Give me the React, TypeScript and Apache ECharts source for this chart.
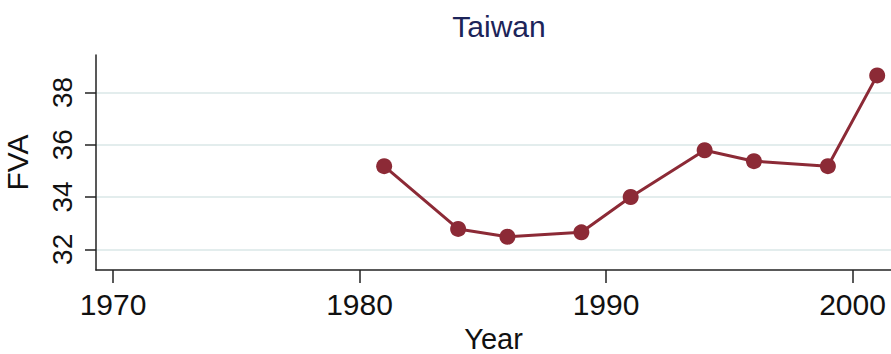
import React, { useEffect, useRef } from "react";
import * as echarts from "echarts";

// Taiwan FVA by year
const years = [1981, 1984, 1986, 1989, 1991, 1994, 1996, 1999, 2001];
const fva = [35.18, 32.78, 32.48, 32.65, 34.0, 35.79, 35.37, 35.18, 38.65];

const xTicks = [1970, 1980, 1990, 2000];
const yTicks = [32, 34, 36, 38];

const SANS = "'Liberation Sans', Arial, sans-serif";

export default function App() {
  const ref = useRef<HTMLDivElement>(null);

  useEffect(() => {
    if (!ref.current) return;
    const chart = echarts.init(ref.current, null, { renderer: "svg" });
    chart.setOption({
      animation: false,
      backgroundColor: "#ffffff",
      title: {
        text: "Taiwan",
        left: 494,
        top: 6,
        textAlign: "center",
        textStyle: {
          fontFamily: SANS,
          fontSize: 30,
          fontWeight: "normal",
          color: "#1c2459",
        },
      },
      grid: { left: 96, right: 0, top: 55, bottom: 84, outerBoundsMode: "none" },
      xAxis: {
        type: "value",
        min: 1969.31,
        max: 2001.56,
        name: "Year",
        nameLocation: "middle",
        nameGap: 54,
        nameTextStyle: { fontFamily: SANS, fontSize: 29, color: "#111" },
        axisLine: { show: true, lineStyle: { color: "#222", width: 1.5 } },
        axisTick: {
          show: true,
          length: 13,
          customValues: xTicks,
          lineStyle: { color: "#222", width: 1.5 },
        },
        axisLabel: {
          customValues: xTicks,
          margin: 19,
          fontFamily: SANS,
          fontSize: 30,
          color: "#111",
          formatter: (v: number) => String(v),
        },
        splitLine: { show: false },
      },
      yAxis: {
        type: "value",
        min: 31.21,
        max: 39.43,
        name: "FVA",
        nameLocation: "middle",
        nameRotate: 90,
        nameGap: 64,
        nameTextStyle: { fontFamily: SANS, fontSize: 30, color: "#111" },
        axisLine: { show: true, lineStyle: { color: "#222", width: 1.5 } },
        axisTick: {
          show: true,
          length: 11,
          customValues: yTicks,
          lineStyle: { color: "#222", width: 1.5 },
        },
        axisLabel: {
          customValues: yTicks,
          rotate: 90,
          margin: 20,
          fontFamily: SANS,
          fontSize: 28,
          color: "#111",
        },
        splitLine: { show: true, lineStyle: { color: "#e3eded", width: 2 } },
      },
      series: [
        {
          type: "line",
          data: years.map((y, i) => [y, fva[i]]),
          symbol: "circle",
          symbolSize: 16,
          lineStyle: { color: "#8c2a36", width: 3 },
          itemStyle: { color: "#8c2a36" },
        },
      ],
    });
    return () => chart.dispose();
  }, []);

  return (
    <div
      ref={ref}
      style={{ position: "fixed", left: 0, top: 0, width: 891, height: 354 }}
    />
  );
}
